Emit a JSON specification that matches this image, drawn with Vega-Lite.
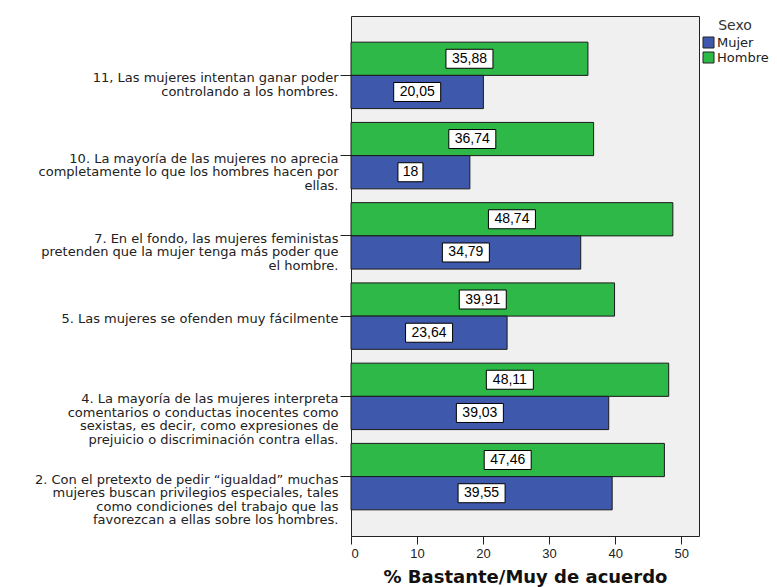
{
  "$schema": "https://vega.github.io/schema/vega-lite/v6.json",
  "width": 348,
  "height": 520,
  "autosize": {"type": "none"},
  "padding": {"left": 351, "top": 16, "right": 78, "bottom": 51},
  "background": "white",
  "data": {
    "values": [
      {"item": "11, Las mujeres intentan ganar poder|controlando a los hombres.", "Sexo": "Hombre", "value": 35.88},
      {"item": "11, Las mujeres intentan ganar poder|controlando a los hombres.", "Sexo": "Mujer", "value": 20.05},
      {"item": "10. La mayoría de las mujeres no aprecia|completamente lo que los hombres hacen por|ellas.", "Sexo": "Hombre", "value": 36.74},
      {"item": "10. La mayoría de las mujeres no aprecia|completamente lo que los hombres hacen por|ellas.", "Sexo": "Mujer", "value": 18},
      {"item": "7. En el fondo, las mujeres feministas|pretenden que la mujer tenga más poder que|el hombre.", "Sexo": "Hombre", "value": 48.74},
      {"item": "7. En el fondo, las mujeres feministas|pretenden que la mujer tenga más poder que|el hombre.", "Sexo": "Mujer", "value": 34.79},
      {"item": "5. Las mujeres se ofenden muy fácilmente", "Sexo": "Hombre", "value": 39.91},
      {"item": "5. Las mujeres se ofenden muy fácilmente", "Sexo": "Mujer", "value": 23.64},
      {"item": "4. La mayoría de las mujeres interpreta|comentarios o conductas inocentes como|sexistas, es decir, como expresiones de|prejuicio o discriminación contra ellas.", "Sexo": "Hombre", "value": 48.11},
      {"item": "4. La mayoría de las mujeres interpreta|comentarios o conductas inocentes como|sexistas, es decir, como expresiones de|prejuicio o discriminación contra ellas.", "Sexo": "Mujer", "value": 39.03},
      {"item": "2. Con el pretexto de pedir “igualdad” muchas|mujeres buscan privilegios especiales, tales|como condiciones del trabajo que las|favorezcan a ellas sobre los hombres.", "Sexo": "Hombre", "value": 47.46},
      {"item": "2. Con el pretexto de pedir “igualdad” muchas|mujeres buscan privilegios especiales, tales|como condiciones del trabajo que las|favorezcan a ellas sobre los hombres.", "Sexo": "Mujer", "value": 39.55}
    ]
  },
  "transform": [{"calculate": "datum.value / 2", "as": "mid"}],
  "encoding": {
    "y": {
      "field": "item",
      "type": "nominal",
      "sort": null,
      "scale": {"paddingInner": 0.172, "paddingOuter": 0.326},
      "axis": {
        "title": null,
        "domain": false,
        "labelExpr": "split(datum.label, '|')",
        "labelFont": "DejaVu Sans",
        "labelFontSize": 13,
        "labelLineHeight": 13.5,
        "labelColor": "#222",
        "labelLimit": 400,
        "labelPadding": 2,
        "labelOffset": 3,
        "tickSize": 11,
        "tickColor": "#222"
      }
    },
    "yOffset": {
      "field": "Sexo",
      "sort": ["Hombre", "Mujer"],
      "scale": {"paddingInner": 0, "paddingOuter": 0}
    }
  },
  "layer": [
    {
      "mark": {"type": "bar", "stroke": "#1a1a1a", "strokeWidth": 1},
      "encoding": {
        "x": {
          "field": "value",
          "type": "quantitative",
          "scale": {"domain": [0, 52.7], "nice": false},
          "axis": {
            "title": "% Bastante/Muy de acuerdo",
            "titleFont": "DejaVu Sans",
            "titleFontWeight": "bold",
            "titleFontSize": 18,
            "titleColor": "#111",
            "titlePadding": 8,
            "values": [0, 10, 20, 30, 40, 50],
            "grid": false,
            "domain": false,
            "tickSize": 8,
            "tickColor": "#222",
            "labelFont": "Liberation Sans",
            "labelFontSize": 13,
            "labelColor": "#222",
            "labelPadding": 3
          }
        },
        "color": {
          "field": "Sexo",
          "type": "nominal",
          "scale": {"domain": ["Mujer", "Hombre"], "range": ["#3E58AC", "#2EB848"]},
          "legend": {
            "orient": "none",
            "legendX": 351,
            "legendY": 3,
            "padding": 0,
            "title": "Sexo",
            "titleFont": "DejaVu Sans",
            "titleFontSize": 14,
            "titleFontWeight": "normal",
            "titleColor": "#333",
            "titleAnchor": "middle",
            "titlePadding": 3,
            "symbolType": "square",
            "symbolSize": 121,
            "symbolStrokeColor": "#222",
            "symbolStrokeWidth": 1,
            "symbolOpacity": 1,
            "labelFont": "DejaVu Sans",
            "labelFontSize": 13,
            "labelColor": "#222",
            "labelOffset": 2,
            "rowPadding": 0
          }
        }
      }
    },
    {
      "mark": {"type": "point", "filled": true, "fill": "white", "stroke": "black", "strokeWidth": 1, "opacity": 1, "size": 361},
      "encoding": {
        "x": {"field": "mid", "type": "quantitative"},
        "shape": {
          "condition": {"test": "datum.value < 20", "value": "M-1.316,-1H1.316V1H-1.316Z"},
          "value": "M-2.474,-1H2.474V1H-2.474Z"
        }
      }
    },
    {
      "mark": {"type": "text", "font": "Liberation Sans", "fontSize": 14, "color": "black"},
      "encoding": {
        "x": {"field": "mid", "type": "quantitative"},
        "text": {"field": "value", "type": "quantitative", "format": ".4~r"}
      }
    }
  ],
  "config": {
    "locale": {"number": {"decimal": ",", "thousands": ".", "grouping": [3], "currency": ["", " €"]}},
    "view": {"fill": "#f0f0f0", "stroke": "#222", "strokeWidth": 1}
  }
}
